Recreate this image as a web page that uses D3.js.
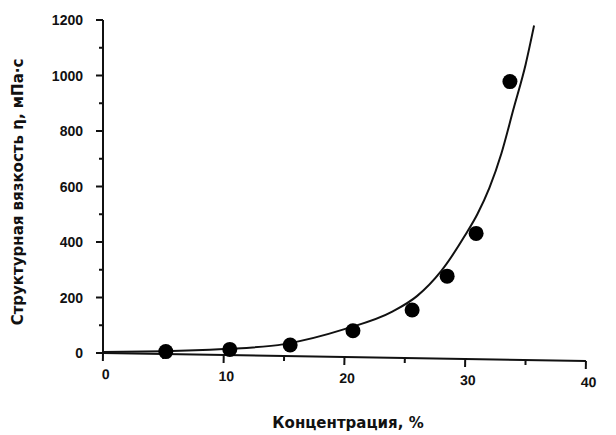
<!DOCTYPE html>
<html><head><meta charset="utf-8">
<script src="https://cdn.jsdelivr.net/npm/d3@7"></script>
<style>
html,body{margin:0;padding:0;background:#fff;}
svg{display:block;}
text{font-weight:bold;fill:#111;}
</style></head>
<body>
<svg id="chart" width="616" height="435"></svg>
<script>
// Measured points
const concentration = [5.2, 10.5, 15.5, 20.7, 25.6, 28.5, 30.9, 33.7];
const viscosity = [5, 13, 29, 80, 155, 277, 431, 978];
// Fitted curve
const curveX = [0, 5, 10, 15, 20, 24, 26, 28, 30, 31, 32, 33, 34, 35, 35.7];
const curveY = [4, 6, 14, 32, 86, 150, 205, 295, 425, 500, 595, 720, 880, 1040, 1180];
const xTicks = [0, 10, 20, 30, 40];
const xMinor = [5, 15, 25, 35];
const yTicks = [0, 200, 400, 600, 800, 1000, 1200];
const yMinor = [100, 300, 500, 700, 900, 1100];
const xTitle = "Концентрация, %";
const yTitle = "Структурная вязкость η, мПа·с";

const svg = d3.select("#chart");
const x = d3.scaleLinear().domain([0, 40]).range([103, 586]);
const y = d3.scaleLinear().domain([0, 1200]).range([353, 20]);
const ink = "#111";
const tickFont = "'Liberation Sans', Arial, sans-serif";
const titleFont = "'DejaVu Sans', sans-serif";

// X axis (slightly tilted as in the scan)
const gx = svg.append("g").attr("transform", `rotate(0.95, ${x(0)}, ${y(0)})`);
gx.append("line").attr("x1", x(0)).attr("x2", x(40)).attr("y1", y(0)).attr("y2", y(0))
  .attr("stroke", ink).attr("stroke-width", 2);
gx.selectAll("path.xmaj").data(xTicks).join("path").attr("class", "xmaj")
  .attr("d", d => `M${x(d)},${y(0)}V${y(0) + 8}`)
  .attr("stroke", ink).attr("stroke-width", 2);
gx.selectAll("path.xmin").data(xMinor).join("path").attr("class", "xmin")
  .attr("d", d => `M${x(d)},${y(0)}V${y(0) + 5}`)
  .attr("stroke", ink).attr("stroke-width", 2);
gx.selectAll("text.xl").data(xTicks).join("text").attr("class", "xl")
  .attr("x", d => x(d) + 3).attr("y", y(0) + 26).attr("text-anchor", "middle")
  .style("font-family", tickFont).style("font-size", "14px").text(d => d);

// Y axis
const gy = svg.append("g");
gy.append("line").attr("x1", x(0)).attr("x2", x(0)).attr("y1", y(0)).attr("y2", y(1200))
  .attr("stroke", ink).attr("stroke-width", 2);
gy.selectAll("path.ymaj").data(yTicks).join("path").attr("class", "ymaj")
  .attr("d", d => `M${x(0) - 7},${y(d)}H${x(0)}`)
  .attr("stroke", ink).attr("stroke-width", 2);
gy.selectAll("path.ymin").data(yMinor).join("path").attr("class", "ymin")
  .attr("d", d => `M${x(0) - 4},${y(d)}H${x(0)}`)
  .attr("stroke", ink).attr("stroke-width", 2);
gy.selectAll("text.yl").data(yTicks).join("text").attr("class", "yl")
  .attr("x", x(0) - 20).attr("y", d => y(d) + 5).attr("text-anchor", "end")
  .style("font-family", tickFont).style("font-size", "14px").text(d => d);

// Curve
const curveData = curveX.map((v, i) => [v, curveY[i]]);
svg.append("path").datum(curveData)
  .attr("fill", "none").attr("stroke", ink).attr("stroke-width", 2)
  .attr("d", d3.line().x(d => x(d[0])).y(d => y(d[1])).curve(d3.curveMonotoneX));

// Points
svg.selectAll("circle.pt").data(concentration.map((v, i) => [v, viscosity[i]]))
  .join("circle").attr("class", "pt")
  .attr("cx", d => x(d[0])).attr("cy", d => y(d[1])).attr("r", 7.5).attr("fill", "#000");

// Titles
svg.append("text").attr("x", 348).attr("y", 428).attr("text-anchor", "middle")
  .style("font-family", titleFont).style("font-size", "15px").text(xTitle);
svg.append("text").attr("transform", "translate(23,192) rotate(-90)").attr("text-anchor", "middle")
  .style("font-family", titleFont).style("font-size", "15px").text(yTitle);
</script>
</body></html>
